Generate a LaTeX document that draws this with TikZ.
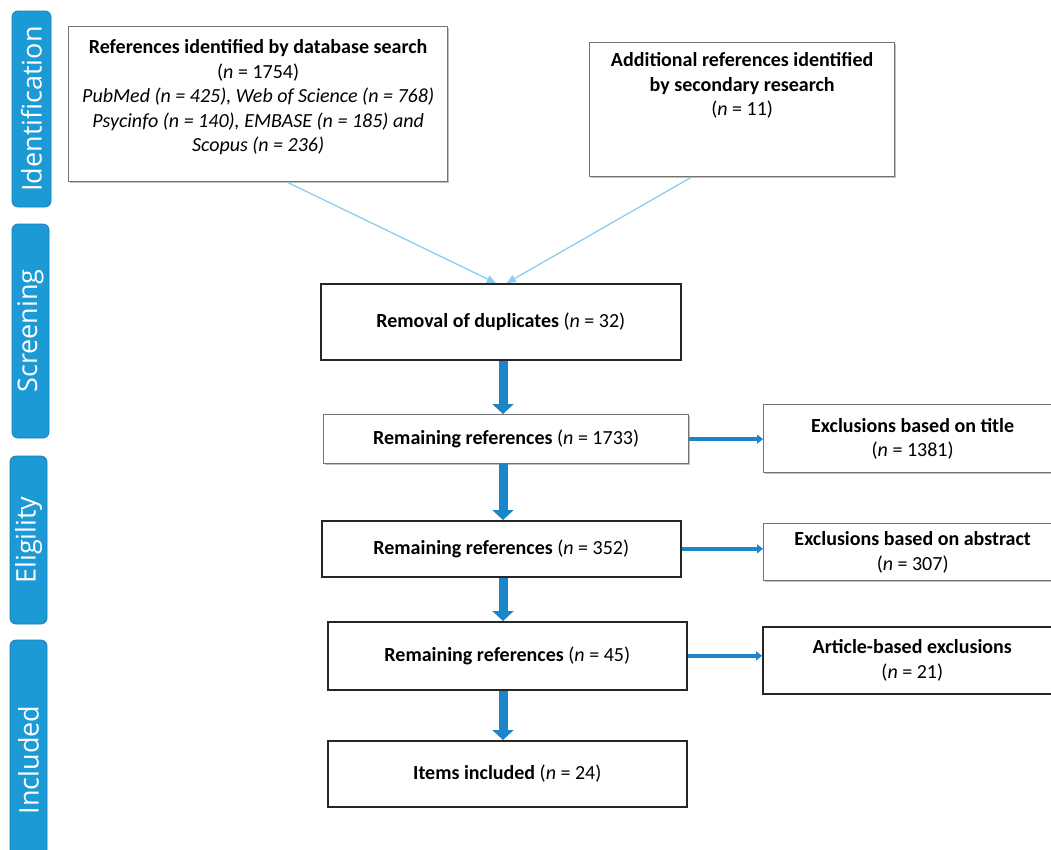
\documentclass[tikz,border=0pt]{standalone}
\usepackage{fontspec}
\setmainfont{Carlito}
\newfontfamily\phasefont{Open Sans}
\usetikzlibrary{arrows.meta,shadows,calc}
\definecolor{phaseblue}{HTML}{1B9AD6}
\definecolor{phaseedge}{HTML}{1780B8}
\definecolor{arrowblue}{HTML}{1A86C8}
\definecolor{lightline}{HTML}{8DCDF0}
\tikzset{
  phase/.style={draw=phaseedge, fill=phaseblue, rounded corners=6pt, line width=0.8pt,
    rotate=90, text=white, font=\phasefont\fontsize{27}{32}\selectfont, inner sep=0pt},
  boxbase/.style={fill=white, inner sep=0pt, align=center, anchor=north west,
    font=\fontsize{20}{24.5}\selectfont,
    drop shadow={shadow xshift=1.5pt, shadow yshift=-1.5pt, opacity=0.25, fill=black}},
  boxlight/.style={boxbase, draw=black!55, line width=1.3pt},
  boxdark/.style={boxbase, draw=black!85, line width=1.6pt},
  bigarrow/.style={draw=arrowblue, line width=9pt, -{Triangle[width=21pt,length=10pt]}},
  sidearrow/.style={draw=arrowblue, line width=4.5pt, -{Triangle[width=9pt,length=6pt]}},
  thinarrow/.style={draw=lightline, line width=1.3pt, -{Triangle[width=8pt,length=9pt]}}
}
\begin{document}
\begin{tikzpicture}[x=1pt,y=-1pt]
\useasboundingbox (0,0) rectangle (1051,849);
% phase labels
\node[phase, minimum width=196pt, minimum height=39pt] (pid) at (31.5,109) {Identification};
\node[phase, minimum width=214pt, minimum height=37pt] (psc) at (30.5,331) {Screening};
\node[phase, minimum width=168pt, minimum height=37pt] (pel) at (28.5,540) {Eligility};
\node[phase, minimum width=240pt, minimum height=37pt] (pin) at (28.5,760) {Included};
% boxes
\node[boxlight, minimum width=379pt, minimum height=155pt] (db) at (68,26)
  {\begin{minipage}[t][155pt][t]{379pt}\centering\vspace*{13pt}
   \textbf{References identified by database search}\\
   (\textit{n} = 1754)\\
   \textit{PubMed (n = 425), Web of Science (n = 768)}\\
   \textit{Psycinfo (n = 140), EMBASE (n = 185) and}\\
   \textit{Scopus (n = 236)}\end{minipage}};
\node[boxlight, minimum width=305pt, minimum height=134pt] (add) at (589,42)
  {\begin{minipage}[t][134pt][t]{305pt}\centering\vspace*{10pt}
   \textbf{Additional references identified}\\
   \textbf{by secondary research}\\
   (\textit{n} = 11)\end{minipage}};
\node[boxdark, minimum width=360pt, minimum height=76pt] (rem) at (320,283)
  {\textbf{Removal of duplicates} (\textit{n} = 32)};
\node[boxlight, minimum width=365pt, minimum height=49pt] (r1) at (323,414)
  {\textbf{Remaining references} (\textit{n} = 1733)};
\node[boxlight, minimum width=298pt, minimum height=68pt] (t1) at (763,404)
  {\textbf{Exclusions based on title}\\(\textit{n} = 1381)};
\node[boxdark, minimum width=359pt, minimum height=56pt] (r2) at (321,520)
  {\textbf{Remaining references} (\textit{n} = 352)};
\node[boxlight, minimum width=298pt, minimum height=57pt] (t2) at (763,523)
  {\textbf{Exclusions based on abstract}\\(\textit{n} = 307)};
\node[boxdark, minimum width=359pt, minimum height=68pt] (r3) at (327,621)
  {\textbf{Remaining references} (\textit{n} = 45)};
\node[boxdark, minimum width=299pt, minimum height=67pt] (t3) at (762,626)
  {\textbf{Article-based exclusions}\\(\textit{n} = 21)};
\node[boxdark, minimum width=359pt, minimum height=66pt] (it) at (327,740)
  {\textbf{Items included} (\textit{n} = 24)};
% connectors
\coordinate (dbout) at ($(db.south west)!0.577!(db.south east)$);
\coordinate (addout) at ($(add.south west)!0.334!(add.south east)$);
\draw[thinarrow] (dbout) -- ($(rem.north)+(-5,0)$);
\draw[thinarrow] (addout) -- ($(rem.north)+(6,0)$);
\coordinate (ax) at (503,0);
\draw[bigarrow] (rem.south -| ax) -- (r1.north -| ax);
\draw[bigarrow] (r1.south -| ax) -- (r2.north -| ax);
\draw[bigarrow] (r2.south -| ax) -- (r3.north -| ax);
\draw[bigarrow] (r3.south -| ax) -- (it.north -| ax);
\draw[sidearrow] (r1.east) -- (r1.east -| t1.west);
\draw[sidearrow] (r2.east) -- (r2.east -| t2.west);
\draw[sidearrow] (r3.east) -- (r3.east -| t3.west);
\end{tikzpicture}
\end{document}
